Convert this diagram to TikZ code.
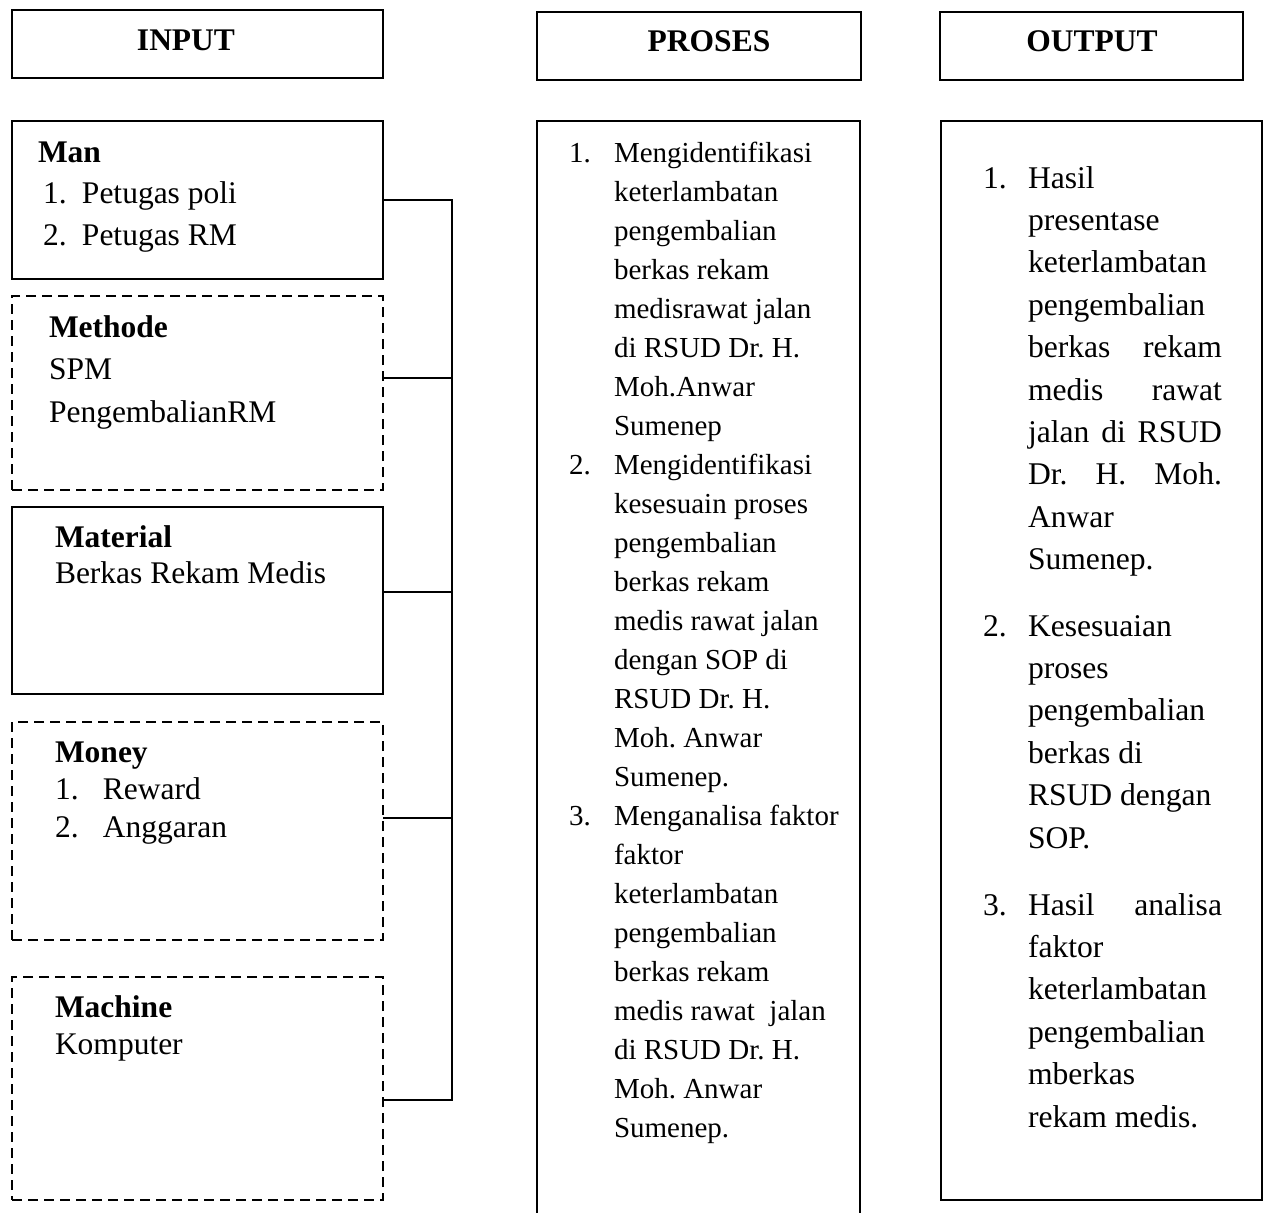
\documentclass[tikz,border=0pt]{standalone}
\usepackage{fontspec}
\setmainfont{Liberation Serif}
\frenchspacing
\newcommand\ptxt[4]{\parbox[t]{#3}{\fontsize{#1}{#2}\selectfont\raggedright\frenchspacing #4}}
\newcommand\jline[1]{\makebox[194pt][s]{#1}}
\begin{document}
\begin{tikzpicture}[x=1pt,y=-1pt,
  box/.style={draw, line width=2pt, inner sep=0pt, outer sep=0pt},
  dbox/.style={box, dash pattern=on 10pt off 6pt},
  txt/.style={anchor=base west, inner sep=0pt, outer sep=0pt},
  hdr/.style={anchor=base, inner sep=0pt, font=\fontsize{31.5}{38}\selectfont\bfseries},
  conn/.style={line width=2pt}]
\useasboundingbox (0,0) rectangle (1265,1212);
\fill[white] (0,0) rectangle (1265,1212);
% headers
\node[box, minimum width=371pt, minimum height=68pt] (hin) at (197.5,44) {};
\node[box, minimum width=324pt, minimum height=68pt] (hpr) at (699,46) {};
\node[box, minimum width=303pt, minimum height=68pt] (hout) at (1091.5,46) {};
\node[hdr] (tin) at (186,51) {INPUT};
\node[hdr] (tpr) at (709,52) {PROSES};
\node[hdr] (tout) at (1092,52) {OUTPUT};
% input boxes
\node[box,  minimum width=371pt, minimum height=158pt] (man) at (197.5,200) {};
\node[dbox, minimum width=371pt, minimum height=194pt] (methode) at (197.5,393) {};
\node[box,  minimum width=371pt, minimum height=187pt] (material) at (197.5,600.5) {};
\node[dbox, minimum width=371pt, minimum height=218pt] (money) at (197.5,831) {};
\node[dbox, minimum width=371pt, minimum height=223pt] (machine) at (197.5,1088.5) {};
% input texts
\node[txt] (tman) at (38,162) {\ptxt{31.5}{41.5}{340pt}{\textbf{Man}\\\hspace*{5pt}\makebox[39pt][l]{1.}Petugas poli\\\hspace*{5pt}\makebox[39pt][l]{2.}Petugas RM}};
\node[txt] (tmet) at (49,337) {\ptxt{31.5}{42.5}{330pt}{\textbf{Methode}\\SPM\\PengembalianRM}};
\node[txt] (tmat) at (55,547) {\ptxt{31.5}{36}{320pt}{\textbf{Material}\\Berkas Rekam Medis}};
\node[txt] (tmon) at (55,762) {\ptxt{31.5}{37.5}{320pt}{\textbf{Money}\\\makebox[48pt][l]{1.}Reward\\\makebox[48pt][l]{2.}Anggaran}};
\node[txt] (tmac) at (55,1017) {\ptxt{31.5}{37}{320pt}{\textbf{Machine}\\Komputer}};
% connectors
\coordinate (b1) at (452,200);
\coordinate (b2) at (452,378);
\coordinate (b3) at (452,592);
\coordinate (b4) at (452,818);
\coordinate (b5) at (452,1100);
\draw[conn] (man.east) -- (b1) -- (b5) -- ([yshift=-11.5pt]machine.east);
\draw[conn] ([yshift=15pt]methode.east) -- (b2);
\draw[conn] ([yshift=8.5pt]material.east) -- (b3);
\draw[conn] ([yshift=13pt]money.east) -- (b4);
% proses box
\node[box, minimum width=323pt, minimum height=1139pt] (proses) at (698.5,690.5) {};
\node[txt] (pn1) at (569,162) {\fontsize{29}{39}\selectfont 1.};
\node[txt] (pn2) at (569,474) {\fontsize{29}{39}\selectfont 2.};
\node[txt] (pn3) at (569,825) {\fontsize{29}{39}\selectfont 3.};
\node[txt] (pt1) at (614,162) {\ptxt{29}{39}{240pt}{Mengidentifikasi\\keterlambatan\\pengembalian\\berkas rekam\\medisrawat jalan\\di RSUD Dr. H.\\Moh.Anwar\\Sumenep}};
\node[txt] (pt2) at (614,474) {\ptxt{29}{39}{240pt}{Mengidentifikasi\\kesesuain proses\\pengembalian\\berkas rekam\\medis rawat jalan\\dengan SOP di\\RSUD Dr. H.\\Moh. Anwar\\Sumenep.}};
\node[txt] (pt3) at (614,825) {\ptxt{29}{39}{240pt}{Menganalisa faktor\\faktor\\keterlambatan\\pengembalian\\berkas rekam\\medis rawat \ jalan\\di RSUD Dr. H.\\Moh. Anwar\\Sumenep.}};
% output box
\node[box, minimum width=321pt, minimum height=1079pt] (output) at (1101.5,660.5) {};
\node[txt] (on1) at (983,188) {\fontsize{31.6}{42.4}\selectfont 1.};
\node[txt] (on2) at (983,636) {\fontsize{31.6}{42.4}\selectfont 2.};
\node[txt] (on3) at (983,915) {\fontsize{31.6}{42.4}\selectfont 3.};
\node[txt] (ot1) at (1028,188) {\ptxt{31.6}{42.4}{200pt}{Hasil\\presentase\\keterlambatan\\pengembalian\\\jline{berkas rekam}\\\jline{medis rawat}\\\jline{jalan di RSUD}\\\jline{Dr. H. Moh.}\\Anwar\\Sumenep.}};
\node[txt] (ot2) at (1028,636) {\ptxt{31.6}{42.4}{200pt}{Kesesuaian\\proses\\pengembalian\\berkas di\\RSUD dengan\\SOP.}};
\node[txt] (ot3) at (1028,915) {\ptxt{31.6}{42.4}{200pt}{\jline{Hasil analisa}\\faktor\\keterlambatan\\pengembalian\\mberkas\\rekam medis.}};
\end{tikzpicture}
\end{document}
